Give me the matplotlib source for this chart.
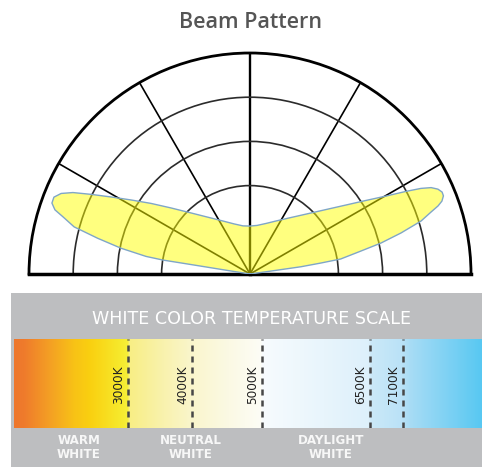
import numpy as np
import matplotlib.pyplot as plt
from matplotlib.colors import LinearSegmentedColormap
from matplotlib import transforms

# beam outline: angle (deg, 0 = right, 180 = left), radius relative to outer ring
beam_deg = [0, 7.9, 8.0, 8.1, 8.8, 9.4, 11.7, 13.3, 15.2, 17.2, 18.9, 19.9, 20.8, 22.0,
            23.1, 24.3, 25.5, 26.6, 27.9, 29.8, 32.4, 35.7, 40.3, 46.5, 54.0, 63.9, 72.4,
            81.8, 90,
            98.3, 107.7, 117.0, 127.0, 134.0, 140.1, 144.5, 148.1, 151.0, 153.4, 155.3,
            156.9, 158.6, 160.3, 161.8, 163.0, 165.0, 166.8, 168.7, 170.4, 170.9, 170.9,
            171.0, 171.3, 180]
beam_r = [0, 0, 0.119, 0.233, 0.325, 0.416, 0.513, 0.609, 0.708, 0.810, 0.866, 0.905,
          0.929, 0.944, 0.945, 0.933, 0.908, 0.865, 0.799, 0.710, 0.621, 0.535, 0.451,
          0.375, 0.316, 0.267, 0.240, 0.222, 0.217,
          0.220, 0.238, 0.269, 0.323, 0.384, 0.466, 0.550, 0.634, 0.719, 0.805, 0.882,
          0.929, 0.953, 0.952, 0.929, 0.885, 0.824, 0.708, 0.595, 0.477, 0.399, 0.229,
          0.110, 0, 0]

ring_r = [0.4, 0.6, 0.8]
spoke_deg = [30, 60, 90, 120, 150]

# colour temperature scale (positions along the bar, 0..468)
bar_len = 468
grad_pos = [0, 10, 36, 60, 76, 106, 114, 115, 150, 180, 215, 247, 249, 310, 355, 357,
            388, 396, 468]
grad_col = ['#EE772C', '#EF7B2C', '#F4A024', '#F8C216', '#FAD010', '#F6E92C', '#F7EF3A',
            '#F8EE84', '#F9F2AE', '#FAF6CE', '#FBF9E4', '#FDFDF6', '#F7FBFE', '#E8F5FC',
            '#DDF0FB', '#CBE9F8', '#BAE2F7', '#A8DCF5', '#58C8F2']
kelvin_labels = ['3000K', '4000K', '5000K', '6500K', '7100K']
kelvin_pos = [114, 178, 248, 356, 389]
zone_labels = ['WARM\nWHITE', 'NEUTRAL\nWHITE', 'DAYLIGHT\nWHITE']
zone_pos = [65, 177, 317]

W, H = 482, 467
fig = plt.figure(figsize=(W/100, H/100), dpi=100)

# ---- beam pattern (half polar plot)
# polar axes keep a square box; the half disc sits in its middle band
ax = fig.add_axes([29/W, 82.5/H, 442/W, 442/H], projection='polar')
ax.set_thetamin(0)
ax.set_thetamax(180)
ax.set_rlim(0, 1)
ax.set_rgrids(ring_r, labels=[''] * len(ring_r))
ax.set_thetagrids(spoke_deg, labels=[''] * len(spoke_deg))
ax.tick_params(length=0)
ax.grid(color='#2b2b2b', lw=1.2)
for gl, d in zip(ax.get_xgridlines(), spoke_deg):
    gl.set_color('black')
    if d == 90:
        gl.set_linewidth(1.7)
ax.spines['polar'].set_linewidth(2)
ax.spines['polar'].set_color('black')
ax.spines['start'].set_linewidth(2.5)
ax.spines['end'].set_linewidth(2.5)
ax.spines['inner'].set_visible(False)

th = np.radians(beam_deg)
ax.fill(th, beam_r, facecolor='yellow', edgecolor='none', alpha=0.5, zorder=3)
ax.plot(th, beam_r, color='#7fa6c8', lw=1, zorder=4)

fig.text(250/W, 1-22/H, 'Beam Pattern', ha='center', va='center', fontsize=15.5,
         color='#555555', weight='semibold', family='Open Sans')

# ---- colour temperature scale
pan = fig.add_axes([11/W, 0, 1-11/W, 1-293/H], zorder=0)
pan.set_facecolor('#BDBEC0')
pan.set_xticks([])
pan.set_yticks([])
for s in pan.spines.values():
    s.set_visible(False)

fig.text(251/W, 1-319.5/H, 'WHITE COLOR TEMPERATURE SCALE', ha='center', va='center',
         fontsize=12.6, color='white')

bar = fig.add_axes([14/W, 1-428.3/H, 1-14/W, 89.3/H], zorder=1)
cmap = LinearSegmentedColormap.from_list(
    'ct', list(zip(np.array(grad_pos) / bar_len, grad_col)), N=1024)
bar.imshow(np.linspace(0, 1, 1024)[None, :], cmap=cmap, aspect='auto',
           extent=[0, bar_len, 0, 1], interpolation='bilinear')
bar.set_xlim(0, bar_len)
bar.set_ylim(0, 1)
bar.axis('off')

bar.vlines(kelvin_pos, 0, 1, colors='#474747', lw=1.8, linestyles=(0, (2.4, 2.0)))
lab_tr = transforms.offset_copy(bar.transData, fig=fig, x=-9.5, y=0, units='dots')
for p, lab in zip(kelvin_pos, kelvin_labels):
    bar.text(p, 0.485, lab, rotation=90, ha='center', va='center', fontsize=8.7,
             color='#222222', transform=lab_tr)

for p, lab in zip(zone_pos, zone_labels):
    bar.text(p, -0.21, lab, ha='center', va='center', fontsize=8.6, weight='bold',
             color='#f7f7f7', linespacing=1.1, clip_on=False)

plt.savefig('out.png', dpi=100)
